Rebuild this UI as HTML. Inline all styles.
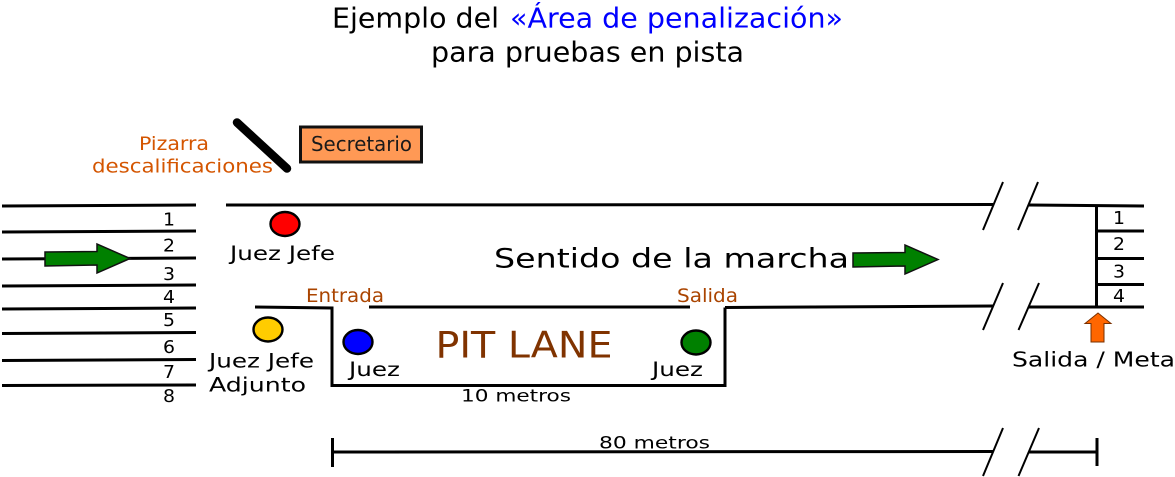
<!DOCTYPE html>
<html><head><meta charset="utf-8"><style>
html,body{margin:0;padding:0;background:#fff}
svg{display:block}
text{font-family:"DejaVu Sans",sans-serif;fill:#000}
.l{stroke:#000;stroke-width:3;fill:none}
.b{stroke:#000;stroke-width:2;fill:none}
.c{stroke:#000;stroke-width:2.4}
</style></head><body>
<svg width="1175" height="477" viewBox="0 0 1175 477" xmlns="http://www.w3.org/2000/svg">
<text x="332" y="27.500" font-size="28" textLength="167" lengthAdjust="spacingAndGlyphs">Ejemplo del</text>
<text x="510" y="27.500" font-size="28" textLength="333" lengthAdjust="spacingAndGlyphs" style="fill:#0000ff">«Área de penalización»</text>
<text x="431" y="61.700" font-size="28" textLength="313" lengthAdjust="spacingAndGlyphs">para pruebas en pista</text>

<path class="l" d="M2 206L196 205M2 232L196 231M2 259L196 258M2 286L196 285M2 309L196 308M2 333.500L196 332.500M2 360.500L196 359.500M2 385.500L196 385"/>
<path class="l" d="M226 205L993 204.500M1029 205L1144 206M1096 231H1144M1096 258.500H1144M1096 284.500H1144"/>
<path class="l" d="M1096.500 205V307M1029 307H1144M725 307.500L993 306M255 307L332 308V385.500H725V307.500M369 307H690"/>
<path class="l" d="M332 452L993 451.500M1029 452H1097M332.500 438V467M1097 438V466"/>
<path class="b" d="M983 230L1003 182M1018 230L1038 182M983 330L1003 283M1018.500 330L1039 283M983 476L1003 428M1018.500 476L1039 428"/>

<path d="M237 122.500L287 168.500" stroke="#000" stroke-width="8.500" stroke-linecap="round"/>
<rect x="300.500" y="127" width="121" height="35" fill="#ff9955" stroke="#111" stroke-width="3"/>

<path d="M45 252L97 251.500V244L130 258.500L97 273V265L45 266Z" fill="#008000" stroke="#111" stroke-width="1.500"/>
<path d="M853 253L905 252.500V245L938 259.500L905 274V266L853 267Z" fill="#008000" stroke="#111" stroke-width="1.500"/>
<path d="M1098 313L1111 323.500H1104V342H1091V323.500H1085Z" fill="#ff6600" stroke="#7a3000" stroke-width="1"/>

<ellipse class="c" cx="285" cy="224" rx="14.500" ry="12" fill="#ff0000"/>
<ellipse class="c" cx="268" cy="329.500" rx="14.500" ry="12" fill="#ffcc00"/>
<ellipse class="c" cx="358" cy="342" rx="14.500" ry="12" fill="#0000ff"/>
<ellipse class="c" cx="696" cy="342.500" rx="14.500" ry="12" fill="#008000"/>

<g font-size="17.500">
<text x="163" y="225.500" textLength="12" lengthAdjust="spacingAndGlyphs">1</text>
<text x="163" y="251.500" textLength="12" lengthAdjust="spacingAndGlyphs">2</text>
<text x="163" y="280" textLength="12" lengthAdjust="spacingAndGlyphs">3</text>
<text x="163" y="303" textLength="12" lengthAdjust="spacingAndGlyphs">4</text>
<text x="163" y="326" textLength="12" lengthAdjust="spacingAndGlyphs">5</text>
<text x="163" y="353" textLength="12" lengthAdjust="spacingAndGlyphs">6</text>
<text x="163" y="378" textLength="12" lengthAdjust="spacingAndGlyphs">7</text>
<text x="163" y="402" textLength="12" lengthAdjust="spacingAndGlyphs">8</text>
<text x="1113" y="224" textLength="12" lengthAdjust="spacingAndGlyphs">1</text>
<text x="1113" y="250" textLength="12" lengthAdjust="spacingAndGlyphs">2</text>
<text x="1113" y="277.500" textLength="12" lengthAdjust="spacingAndGlyphs">3</text>
<text x="1113" y="302" textLength="12" lengthAdjust="spacingAndGlyphs">4</text>
</g>

<text x="139" y="150" font-size="18.300" textLength="70" lengthAdjust="spacingAndGlyphs" style="fill:#d45500">Pizarra</text>
<text x="92" y="172.700" font-size="18.300" textLength="181" lengthAdjust="spacingAndGlyphs" style="fill:#d45500">descalificaciones</text>
<text x="311" y="151" font-size="20.500" textLength="101" lengthAdjust="spacingAndGlyphs" style="fill:#1a1a1a">Secretario</text>
<text x="230" y="260" font-size="19.600" textLength="105" lengthAdjust="spacingAndGlyphs">Juez Jefe</text>
<text x="306" y="302" font-size="18.300" textLength="78" lengthAdjust="spacingAndGlyphs" style="fill:#aa4400">Entrada</text>
<text x="677" y="302" font-size="18.300" textLength="61" lengthAdjust="spacingAndGlyphs" style="fill:#aa4400">Salida</text>
<text x="494" y="267.300" font-size="27" textLength="355" lengthAdjust="spacingAndGlyphs">Sentido de la marcha</text>
<text x="435.500" y="357.700" font-size="36.500" textLength="177" lengthAdjust="spacingAndGlyphs" style="fill:#803300">PIT LANE</text>
<text x="209" y="367.300" font-size="19.600" textLength="105" lengthAdjust="spacingAndGlyphs">Juez Jefe</text>
<text x="209" y="391.500" font-size="19.600" textLength="97" lengthAdjust="spacingAndGlyphs">Adjunto</text>
<text x="349" y="376" font-size="19.600" textLength="51" lengthAdjust="spacingAndGlyphs">Juez</text>
<text x="652" y="376" font-size="19.600" textLength="51" lengthAdjust="spacingAndGlyphs">Juez</text>
<text x="461" y="401.500" font-size="17" textLength="110" lengthAdjust="spacingAndGlyphs">10 metros</text>
<text x="599" y="448.500" font-size="17" textLength="111" lengthAdjust="spacingAndGlyphs">80 metros</text>
<text x="1012" y="366.500" font-size="20.600" textLength="163" lengthAdjust="spacingAndGlyphs">Salida / Meta</text>
</svg>
</body></html>
